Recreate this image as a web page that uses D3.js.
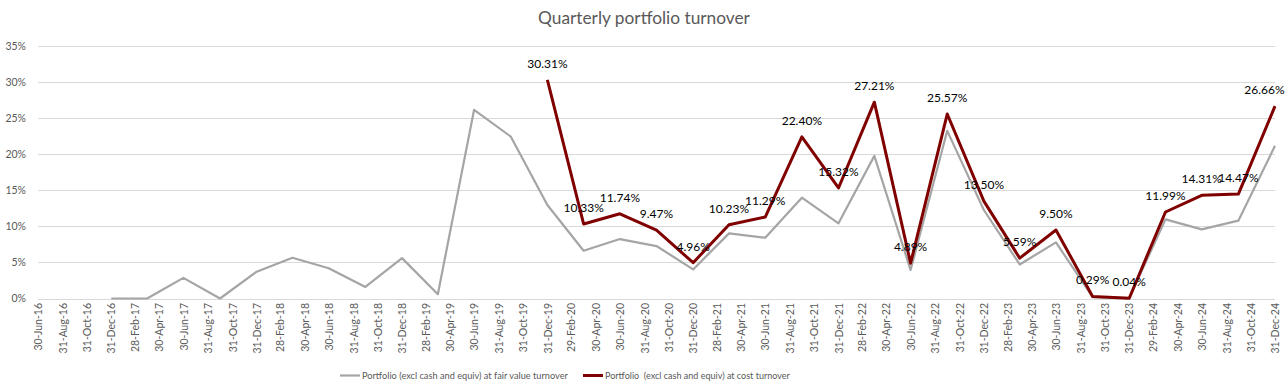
<!DOCTYPE html>
<html>
<head>
<meta charset="utf-8">
<script src="https://cdn.jsdelivr.net/npm/d3@7"></script>
<style>
  body { margin: 0; background: #fff; }
  svg { display: block; font-family: Lato, "Open Sans", sans-serif; }
</style>
</head>
<body>
<svg id="chart"></svg>
<script>
const quarters = ["31-Dec-16","31-Mar-17","30-Jun-17","30-Sep-17","31-Dec-17","31-Mar-18","30-Jun-18","30-Sep-18","31-Dec-18",
  "31-Mar-19","30-Jun-19","30-Sep-19","31-Dec-19","31-Mar-20","30-Jun-20","30-Sep-20","31-Dec-20","31-Mar-21","30-Jun-21",
  "30-Sep-21","31-Dec-21","31-Mar-22","30-Jun-22","30-Sep-22","31-Dec-22","31-Mar-23","30-Jun-23","30-Sep-23","31-Dec-23",
  "31-Mar-24","30-Jun-24","30-Sep-24","31-Dec-24"];

const fairValue = [0, 0, 2.86, 0, 3.71, 5.64, 4.2, 1.6, 5.6, 0.6, 26.16, 22.45, 12.96, 6.62, 8.24, 7.27, 4.03, 9.03, 8.43,
  13.98, 10.42, 19.77, 3.94, 23.24, 12.27, 4.72, 7.78, 0.2, 0.05, 10.97, 9.58, 10.79, 21.16];

// cost series starts at 31-Dec-19
const costStart = "31-Dec-19";
const atCost = [30.31, 10.33, 11.74, 9.47, 4.96, 10.23, 11.29, 22.40, 15.32, 27.21, 4.89, 25.57, 13.50, 5.59, 9.50, 0.29, 0.04,
  11.99, 14.31, 14.47, 26.66];

const xTicks = ["30-Jun-16","31-Aug-16","31-Oct-16","31-Dec-16","28-Feb-17","30-Apr-17","30-Jun-17","31-Aug-17","31-Oct-17",
  "31-Dec-17","28-Feb-18","30-Apr-18","30-Jun-18","31-Aug-18","31-Oct-18","31-Dec-18","28-Feb-19","30-Apr-19","30-Jun-19",
  "31-Aug-19","31-Oct-19","31-Dec-19","29-Feb-20","30-Apr-20","30-Jun-20","31-Aug-20","31-Oct-20","31-Dec-20","28-Feb-21",
  "30-Apr-21","30-Jun-21","31-Aug-21","31-Oct-21","31-Dec-21","28-Feb-22","30-Apr-22","30-Jun-22","31-Aug-22","31-Oct-22",
  "31-Dec-22","28-Feb-23","30-Apr-23","30-Jun-23","31-Aug-23","31-Oct-23","31-Dec-23","29-Feb-24","30-Apr-24","30-Jun-24",
  "31-Aug-24","31-Oct-24","31-Dec-24"];
const yTicks = [0, 5, 10, 15, 20, 25, 30, 35];

const seriesNames = ["Portfolio (excl cash and equiv) at fair value turnover", "Portfolio  (excl cash and equiv) at cost turnover"];

const width = 1285, height = 389;
const parse = d3.utcParse("%d-%b-%y");
const svg = d3.select("#chart").attr("width", width).attr("height", height);

const x = d3.scaleUtc()
  .domain([parse(xTicks[0]), parse(xTicks[xTicks.length - 1])])
  .range([38, 1275]);
const y = d3.scaleLinear().domain([0, 35]).range([298.5, 46]);

// title
svg.append("text")
  .attr("x", 644).attr("y", 23.5)
  .attr("text-anchor", "middle")
  .attr("fill", "#595959")
  .style("font-size", "17.3px")
  .text("Quarterly portfolio turnover");

// gridlines
svg.append("g")
  .selectAll("line")
  .data(yTicks)
  .join("line")
  .attr("x1", 38).attr("x2", 1275)
  .attr("y1", d => Math.round(y(d)) + 0.5).attr("y2", d => Math.round(y(d)) + 0.5)
  .attr("stroke", "#d9d9d9");

// y axis labels
const yAxis = d3.axisLeft(y).tickValues(yTicks).tickFormat(d => d + "%").tickSize(0).tickPadding(0);
svg.append("g")
  .attr("transform", "translate(26,0)")
  .call(yAxis)
  .call(g => g.select(".domain").remove())
  .call(g => g.selectAll("text").attr("fill", "#595959").style("font-size", "10.5px").style("font-family", "Lato"));

// x axis labels
const xAxis = d3.axisBottom(x).tickValues(xTicks.map(parse)).tickFormat(d3.utcFormat("%d-%b-%y")).tickSize(0);
svg.append("g")
  .attr("transform", "translate(0,303)")
  .call(xAxis)
  .call(g => g.select(".domain").remove())
  .call(g => g.selectAll("text")
    .attr("transform", "rotate(-90)")
    .attr("text-anchor", "end")
    .attr("x", 0).attr("y", 0).attr("dy", "0.35em")
    .attr("fill", "#595959")
    .style("font-size", "10.5px").style("font-family", "Lato"));

const line = d3.line().x(d => x(d.date)).y(d => y(d.value));

const grayData = quarters.map((q, i) => ({ date: parse(q), value: fairValue[i] }));
const start = quarters.indexOf(costStart);
const redData = atCost.map((v, i) => ({ date: parse(quarters[start + i]), value: v }));

svg.append("path")
  .datum(grayData)
  .attr("d", line)
  .attr("fill", "none")
  .attr("stroke", "#a5a5a5")
  .attr("stroke-width", 2.2)
  .attr("stroke-linejoin", "round");

svg.append("path")
  .datum(redData)
  .attr("d", line)
  .attr("fill", "none")
  .attr("stroke", "#800000")
  .attr("stroke-width", 3)
  .attr("stroke-linejoin", "round");

// data labels for cost series
svg.append("g")
  .selectAll("text")
  .data(redData)
  .join("text")
  .attr("x", d => Math.min(x(d.date), 1284 - 19.5))
  .attr("y", d => y(d.value) - 12)
  .attr("text-anchor", "middle")
  .attr("fill", "#000")
  .style("font-size", "12px")
  .text(d => d.value.toFixed(2) + "%");

// legend
const legend = svg.append("g").attr("fill", "#595959");
const legendItems = [
  { name: seriesNames[0], color: "#a5a5a5", w: 2.2, x0: 340, textW: 206 },
  { name: seriesNames[1], color: "#800000", w: 3, x0: 583, textW: 185 }
];
legendItems.forEach(it => {
  legend.append("line")
    .attr("x1", it.x0).attr("x2", it.x0 + 20)
    .attr("y1", 375.5).attr("y2", 375.5)
    .attr("stroke", it.color).attr("stroke-width", it.w);
  const t = legend.append("text")
    .attr("x", it.x0 + 22).attr("y", 379)
    .style("white-space", "pre")
    .attr("xml:space", "preserve")
    .style("font-size", "10.5px")
    .text(it.name);
  const len = t.node().getComputedTextLength();
  t.style("font-size", (10.5 * it.textW / len).toFixed(2) + "px");
});
</script>
</body>
</html>
